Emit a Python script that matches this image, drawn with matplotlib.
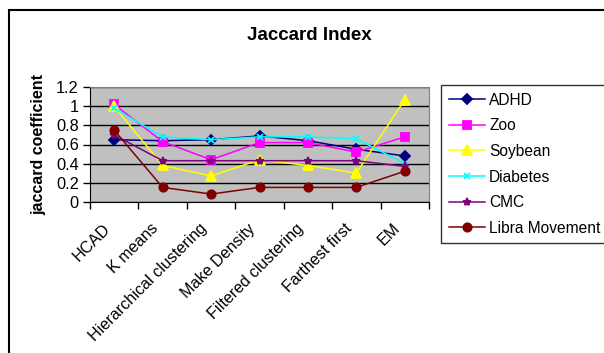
import matplotlib
matplotlib.use("Agg")
import matplotlib.pyplot as plt
from matplotlib.patches import Rectangle
from matplotlib.transforms import ScaledTranslation, blended_transform_factory

plt.rcParams['font.family'] = ['Liberation Sans', 'DejaVu Sans']

methods = ["HCAD", "K means", "Hierarchical clustering", "Make Density",
           "Filtered clustering", "Farthest first", "EM"]

adhd = [0.65, 0.64, 0.65, 0.69, 0.64, 0.55, 0.48]
zoo = [1.02, 0.63, 0.44, 0.62, 0.62, 0.52, 0.68]
soybean = [1.00, 0.38, 0.27, 0.44, 0.38, 0.30, 1.07]
diabetes = [0.98, 0.68, 0.65, 0.68, 0.68, 0.66, 0.40]
cmc = [0.70, 0.43, 0.43, 0.43, 0.43, 0.43, 0.37]
libra = [0.75, 0.15, 0.08, 0.15, 0.15, 0.15, 0.32]

series = [
    ("ADHD", adhd, "#000080", "D", 5.5),
    ("Zoo", zoo, "#FF00FF", "s", 6),
    ("Soybean", soybean, "#FFFF00", "^", 6.5),
    ("Diabetes", diabetes, "#00FFFF", "x", 5),
    ("CMC", cmc, "#800080", "*", 6),
    ("Libra Movement", libra, "#800000", "o", 6),
]

W, H = 604, 353
fig = plt.figure(figsize=(W / 100, H / 100), dpi=100)
fig.patch.set_facecolor("white")

ax = fig.add_axes([90 / W, 1 - 201.7 / H, (429 - 90) / W, (201.7 - 87.3) / H])
ax.set_facecolor("#C0C0C0")

x = list(range(len(methods)))
for name, vals, color, marker, ms in series:
    ax.plot(x, vals, color=color, marker=marker, markersize=ms, linewidth=1.1,
            markeredgecolor=color, markerfacecolor=color, markeredgewidth=1.3,
            label=name, clip_on=False, zorder=3)

ax.set_xlim(-0.5, len(methods) - 0.5)
ax.set_ylim(0, 1.2)
ax.set_yticks([0, 0.2, 0.4, 0.6, 0.8, 1.0, 1.2])
ax.set_yticklabels(["0", "0.2", "0.4", "0.6", "0.8", "1", "1.2"], fontsize=11.8)
ax.yaxis.grid(True, color="black", linewidth=1)
ax.set_axisbelow(True)

# tick marks at the category boundaries
ax.set_xticks([i - 0.5 for i in range(len(methods) + 1)])
ax.set_xticklabels([])
ax.tick_params(axis="x", which="major", length=5, width=1, direction="out",
               color="black")
ax.tick_params(axis="y", length=5, width=1, direction="out", pad=3)

# slanted category names hanging below each category centre
base = blended_transform_factory(ax.transData, ax.transAxes)
offset = ScaledTranslation(-12 / 100, -19 / 100, fig.dpi_scale_trans)
for i, name in enumerate(methods):
    ax.text(i, 0, name, transform=base + offset, rotation=45,
            rotation_mode="anchor", ha="right", va="top", fontsize=11.6)

for side in ["top", "right"]:
    ax.spines[side].set_color("#808080")
ax.spines["left"].set_color("black")
ax.spines["bottom"].set_color("black")

ax.set_ylabel("jaccard coefficient", fontsize=11.5, fontweight="bold", labelpad=7)

fig.text(309 / W, 1 - 36 / H, "Jaccard Index", ha="center", va="center",
         fontsize=13.5, fontweight="bold")

leg = fig.legend(loc="upper left", bbox_to_anchor=(441 / W, 1 - 85 / H),
                 fontsize=11.2, frameon=True, fancybox=False, edgecolor="black",
                 handlelength=2.3, handletextpad=0.3, labelspacing=0.68,
                 borderpad=0.5, borderaxespad=0)
leg.get_frame().set_linewidth(1)

fig.add_artist(Rectangle((8.5 / W, -0.05), 1.1, 1 - 10 / H + 0.05,
                         transform=fig.transFigure, fill=False,
                         edgecolor="black", linewidth=1.5))

fig.savefig("out.png", dpi=100)
